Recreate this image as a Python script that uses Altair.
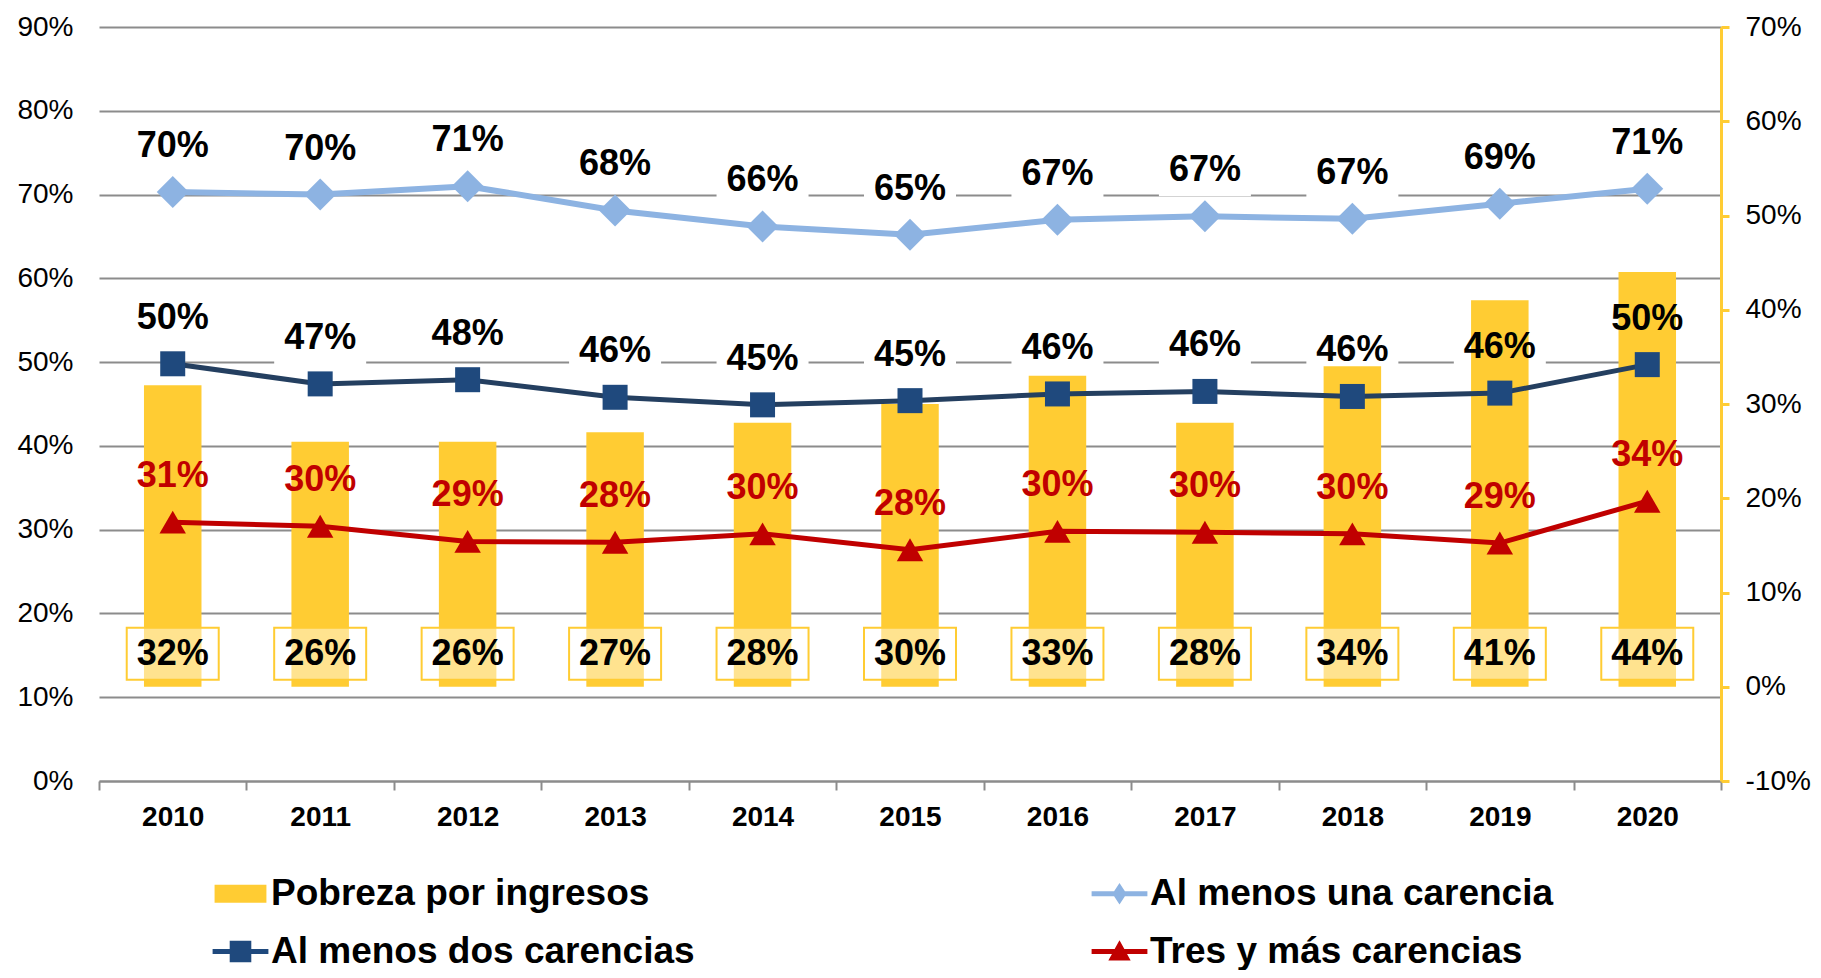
import altair as alt
import pandas as pd

# ---------------- data ----------------
years = ["2010", "2011", "2012", "2013", "2014", "2015", "2016", "2017", "2018", "2019", "2020"]

pobreza = [0.32, 0.26, 0.26, 0.27, 0.28, 0.30, 0.33, 0.28, 0.34, 0.41, 0.44]
pobreza_labels = ["32%", "26%", "26%", "27%", "28%", "30%", "33%", "28%", "34%", "41%", "44%"]

una = [0.703, 0.700, 0.710, 0.681, 0.662, 0.652, 0.670, 0.674, 0.671, 0.689, 0.707]
una_labels = ["70%", "70%", "71%", "68%", "66%", "65%", "67%", "67%", "67%", "69%", "71%"]

dos = [0.498, 0.474, 0.479, 0.458, 0.449, 0.454, 0.462, 0.465, 0.459, 0.463, 0.497]
dos_labels = ["50%", "47%", "48%", "46%", "45%", "45%", "46%", "46%", "46%", "46%", "50%"]

tres = [0.309, 0.304, 0.286, 0.285, 0.295, 0.276, 0.298, 0.297, 0.295, 0.284, 0.334]
tres_labels = ["31%", "30%", "29%", "28%", "30%", "28%", "30%", "30%", "30%", "29%", "34%"]

series_names = ["Pobreza por ingresos", "Al menos una carencia",
                "Al menos dos carencias", "Tres y más carencias"]
# legend is filled column by column: first column, then second column
legend_order = ["Pobreza por ingresos", "Al menos dos carencias",
                "Al menos una carencia", "Tres y más carencias"]
left_ticks = [0, 0.1, 0.2, 0.3, 0.4, 0.5, 0.6, 0.7, 0.8, 0.9]
right_ticks = [-0.1, 0, 0.1, 0.2, 0.3, 0.4, 0.5, 0.6, 0.7]

# ---------------- style ----------------
FONT = "Liberation Sans, Arial, sans-serif"
YELLOW = "#FFCC33"
LIGHT = "#8DB3E2"
NAVY_LINE = "#243F60"
NAVY = "#1F497D"
RED = "#C00000"
GRID = "#8C8C8C"
W, H = 1622, 754

BOX = "M-1,-0.565H1V0.565H-1Z"
LEG_SWATCH = "M-1.44,-0.5H1.44V0.5H-1.44Z"
LEG_DIAMOND = "M-1.55,-0.14H-0.3L0,-0.6L0.3,-0.14H1.55V0.14H0.3L0,0.6L-0.3,0.14H-1.55Z"
LEG_SQUARE = "M-1.55,-0.14H-0.6V-0.6H0.6V-0.14H1.55V0.14H0.6V0.6H-0.6V0.14H-1.55Z"
LEG_TRI = "M-1.55,-0.14H-0.27L0,-0.62L0.27,-0.14H1.55V0.14H0.42L0.62,0.5H-0.62L-0.42,0.14H-1.55Z"
legend_colors = {series_names[0]: YELLOW, series_names[1]: LIGHT,
                 series_names[2]: NAVY, series_names[3]: RED}
legend_shapes = {series_names[0]: LEG_SWATCH, series_names[1]: LEG_DIAMOND,
                 series_names[2]: LEG_SQUARE, series_names[3]: LEG_TRI}

# ---------------- frames ----------------
df_bar = pd.DataFrame({"year": years, "value": pobreza, "label": pobreza_labels, "base": 0.0})


def sdf(vals, labels, name):
    return pd.DataFrame({"year": years, "value": vals, "label": labels, "serie": name})


df_una = sdf(una, una_labels, series_names[1])
df_dos = sdf(dos, dos_labels, series_names[2])
df_tres = sdf(tres, tres_labels, series_names[3])
df_black = pd.concat([df_una, df_dos], ignore_index=True)
df_legend = pd.concat([sdf(pobreza, pobreza_labels, series_names[0]), df_una, df_dos, df_tres],
                      ignore_index=True)

X = alt.X(
    "year:N",
    sort=years,
    scale=alt.Scale(paddingInner=0, paddingOuter=0),
    axis=alt.Axis(
        title=None, labelAngle=0, labelFont=FONT, labelFontSize=28, labelFontWeight="bold",
        labelColor="black", domainColor=GRID, domainWidth=2, tickColor=GRID, tickWidth=2,
        tickSize=9, tickBand="extent", labelPadding=13, grid=False,
    ),
)

left_scale = alt.Scale(domain=[0, 0.9], nice=False, zero=False)
right_scale = alt.Scale(domain=[-0.1, 0.7], nice=False, zero=False)


def y_left_hidden(field="value:Q"):
    return alt.Y(field, scale=left_scale, axis=None)


def y_right_hidden(field="value:Q"):
    return alt.Y(field, scale=right_scale, axis=None)


# white label backgrounds (carry the left axis + grid)
label_boxes = alt.Chart(df_black).mark_point(
    shape=BOX, size=8464, filled=True, fill="white", opacity=1, strokeWidth=0, yOffset=-46
).encode(
    x=X,
    y=alt.Y(
        "value:Q", scale=left_scale,
        axis=alt.Axis(
            orient="left", title=None, values=left_ticks, labelExpr="round(datum.value*100) + '%'",
            grid=True, gridColor=GRID, gridWidth=2, domain=False, ticks=False,
            labelFont=FONT, labelFontSize=28, labelColor="black", labelPadding=26, minExtent=86,
        ),
    ),
)

bars = alt.Chart(df_bar).mark_bar(color=YELLOW, width=alt.RelativeBandSize(0.39)).encode(
    x=X,
    y=alt.Y(
        "value:Q", scale=right_scale,
        axis=alt.Axis(
            orient="right", title=None, values=right_ticks, labelExpr="round(datum.value*100) + '%'",
            grid=False, domainColor=YELLOW, domainWidth=3, tickColor=YELLOW, tickWidth=3,
            tickSize=8, labelFont=FONT, labelFontSize=28, labelColor="black", labelPadding=16,
        ),
    ),
)

bar_boxes = alt.Chart(df_bar).mark_point(
    shape=BOX, size=8464, filled=True, fill="white", fillOpacity=0.45, opacity=1,
    stroke=YELLOW, strokeWidth=2, yOffset=-33,
).encode(x=X, y=y_right_hidden("base:Q"))

bar_text = alt.Chart(df_bar).mark_text(
    font=FONT, fontSize=36, fontWeight="bold", color="black", baseline="middle", dy=-33
).encode(x=X, y=y_right_hidden("base:Q"), text="label:N")


def line_layers(df, line_color, point_color, shape, psize, lwidth, text_color):
    line = alt.Chart(df).mark_line(color=line_color, strokeWidth=lwidth).encode(
        x=X, y=y_left_hidden())
    pts = alt.Chart(df).mark_point(
        shape=shape, size=psize, filled=True, color=point_color, opacity=1, strokeWidth=0
    ).encode(x=X, y=y_left_hidden())
    txt = alt.Chart(df).mark_text(
        font=FONT, fontSize=36, fontWeight="bold", color=text_color, baseline="middle", dy=-46
    ).encode(x=X, y=y_left_hidden(), text="label:N")
    return [line, pts, txt]


layers_una = line_layers(df_una, LIGHT, LIGHT, "diamond", 1024, 6, "black")
layers_dos = line_layers(df_dos, NAVY_LINE, NAVY, "square", 625, 5, "black")
layers_tres = line_layers(df_tres, RED, RED, "triangle-up", 700, 5, RED)

legend_def = alt.Legend(
    orient="none", legendX=123, legendY=848, columns=2, columnPadding=396, rowPadding=20,
    title=None, labelFont=FONT, labelFontSize=37, labelFontWeight="bold", labelColor="black",
    labelOffset=12, labelLimit=700, symbolSize=1296, symbolStrokeWidth=0, symbolOpacity=1,
    padding=0,
)

legend_layer = alt.Chart(df_legend).transform_filter("false").mark_point(filled=True, opacity=1).encode(
    x=X,
    y=y_left_hidden(),
    color=alt.Color("serie:N", scale=alt.Scale(domain=legend_order,
                                               range=[legend_colors[s] for s in legend_order]),
                    legend=legend_def),
    shape=alt.Shape("serie:N", scale=alt.Scale(domain=legend_order,
                                               range=[legend_shapes[s] for s in legend_order]),
                    legend=legend_def),
)

chart = alt.layer(
    label_boxes, bars, bar_boxes, bar_text,
    *layers_una, *layers_dos, *layers_tres,
    legend_layer,
).resolve_scale(
    y="independent"
).properties(
    width=W, height=H, background="white",
    padding={"left": 5, "top": 5, "right": 0, "bottom": 0},
).configure_view(stroke=None)

chart.save("out.html", embed_options={"renderer": "svg", "actions": False})
